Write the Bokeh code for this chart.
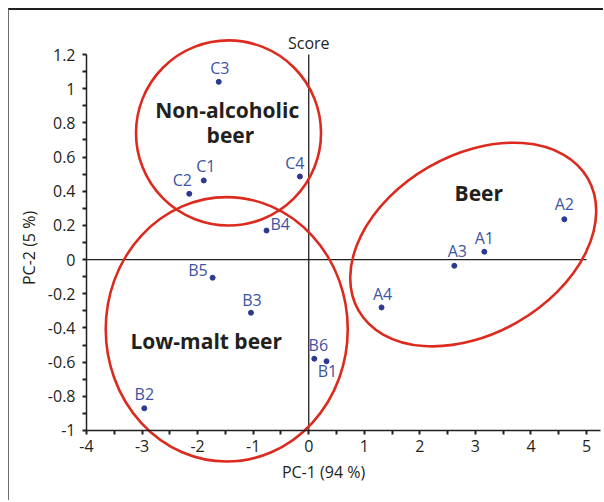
import math
from bokeh.plotting import figure
from bokeh.models import ColumnDataSource, FixedTicker, NumeralTickFormatter, Range1d
from bokeh.core.properties import value
from bokeh.embed import file_html
from bokeh.resources import INLINE

# ---------------- data ----------------
sample_names = ["A1", "A2", "A3", "A4", "B1", "B2", "B3", "B4", "B5", "B6", "C1", "C2", "C3", "C4"]
pc1 = [3.16, 4.60, 2.62, 1.31, 0.32, -2.96, -1.04, -0.76, -1.73, 0.10, -1.89, -2.15, -1.62, -0.16]
pc2 = [0.046, 0.236, -0.036, -0.28, -0.595, -0.87, -0.311, 0.17, -0.106, -0.58, 0.463, 0.385, 1.04, 0.486]

x_ticks = [-4, -3, -2, -1, 0, 1, 2, 3, 4, 5]
x_minor = [-3.5, -2.5, -1.5, -0.5, 0.5, 1.5, 2.5, 3.5, 4.5]
y_ticks = [-1, -0.8, -0.6, -0.4, -0.2, 0, 0.2, 0.4, 0.6, 0.8, 1, 1.2]
y_minor = [-0.9, -0.7, -0.5, -0.3, -0.1, 0.1, 0.3, 0.5, 0.7, 0.9, 1.1]

x_title = "PC-1 (94 %)"
y_title = "PC-2 (5 %)"
chart_title = "Score"

# group ellipses (data units)
group_cx = [2.96, -1.476, -1.444]
group_cy = [0.088, -0.408, 0.741]
group_w = [4.763, 4.356, 3.33]
group_h = [1.046, 1.547, 1.083]
group_angle_deg = [30, 0, 0]

# group labels
group_text = ["Beer", "Low-malt beer", "Non-alcoholic", "beer"]
group_tx = [3.06, -1.845, -1.467, -1.41]
group_ty = [0.335, -0.527, 0.823, 0.677]

# axis-title anchor positions (data units)
x_title_pos = (0.266, -1.2926)
y_title_pos = (-5.04, 0.068)

# ---------------- label placement (styling, pixels) ----------------
BASE_FIX = -8  # svg baseline correction
lab_dx = {"A1": 0, "A2": 0, "A3": 3, "A4": 1, "B1": 1, "B2": 0, "B3": 1, "B4": 4,
          "B5": -5, "B6": 4, "C1": 2, "C2": -7, "C3": 1, "C4": -5}
lab_dy = {"A1": -6, "A2": -7, "A3": -7, "A4": -5, "B1": 18, "B2": -6, "B3": -5, "B4": 1,
          "B5": 0, "B6": -6, "C1": -6, "C2": -6, "C3": -6, "C4": -6}
lab_align = {"B4": "left", "B5": "right"}

src = ColumnDataSource(dict(
    x=pc1, y=pc2, name=sample_names,
    dx=[lab_dx[n] for n in sample_names],
    dy=[lab_dy[n] + BASE_FIX for n in sample_names],
    align=[lab_align.get(n, "center") for n in sample_names],
))

FONT = value("Open Sans")
DARK = "#231f20"

# frame covers the whole canvas; axes are drawn at fixed data locations
p = figure(width=595, height=492,
           x_range=Range1d(-5.386, 5.323), y_range=Range1d(-1.4214, 1.4575),
           output_backend="svg", toolbar_location=None,
           min_border_left=0, min_border_right=0, min_border_top=0, min_border_bottom=0)
p.styles = {"border-top": "2px solid #231f20", "border-left": "1px solid #6d6e71",
            "margin-left": "8px", "margin-top": "8px"}
p.outline_line_color = None
p.xgrid.visible = False
p.ygrid.visible = False
p.background_fill_color = "white"
p.border_fill_color = "white"

xa = p.xaxis[0]
ya = p.yaxis[0]
for ax in (xa, ya):
    ax.axis_line_color = DARK
    ax.axis_line_width = 1.5
    ax.major_tick_line_color = DARK
    ax.major_tick_line_width = 2
    ax.minor_tick_line_color = DARK
    ax.minor_tick_line_width = 2
    ax.major_tick_in = 0
    ax.major_tick_out = 4
    ax.minor_tick_in = 0
    ax.minor_tick_out = 4
    ax.major_label_text_font = "Open Sans"
    ax.major_label_text_font_size = "16px"
    ax.major_label_text_color = DARK
    ax.formatter = NumeralTickFormatter(format="0.[0]")

xa.ticker = FixedTicker(ticks=x_ticks, minor_ticks=x_minor)
ya.ticker = FixedTicker(ticks=y_ticks, minor_ticks=y_minor)
xa.fixed_location = y_ticks[0]
ya.fixed_location = x_ticks[0]
xa.bounds = (x_ticks[0], 5.25)
ya.bounds = (y_ticks[0], y_ticks[-1])
xa.major_label_standoff = 6
ya.major_label_standoff = 7

# zero lines
p.segment(x0=[x_ticks[0]], y0=[0], x1=[x_ticks[-1]], y1=[0], line_color=DARK, line_width=1.3)
p.segment(x0=[0], y0=[y_ticks[0]], x1=[0], y1=[y_ticks[-1]], line_color=DARK, line_width=1.3)

# ellipses
p.ellipse(x=group_cx, y=group_cy, width=group_w, height=group_h,
          angle=[math.radians(a) for a in group_angle_deg],
          fill_color=None, line_color="#dc2a1e", line_width=2.6)

# points and labels
p.scatter("x", "y", source=src, size=5, color="#2b3990")
p.text("x", "y", text="name", source=src, x_offset="dx", y_offset="dy",
       text_align="align", text_baseline="alphabetic",
       text_font=FONT, text_font_size="16px", text_color="#4053a3")

# group labels
p.text(x=group_tx, y=group_ty, text=group_text, text_align="center", text_baseline="alphabetic",
       y_offset=-9, text_font=FONT, text_font_size="21px", text_font_style="bold", text_color=DARK)

# title "Score"
p.text(x=[0], y=[y_ticks[-1]], text=[chart_title], text_align="center", text_baseline="alphabetic",
       y_offset=-12, text_font=FONT, text_font_size="16px", text_color=DARK)

# axis titles
p.text(x=[x_title_pos[0]], y=[x_title_pos[1]], text=[x_title], text_align="center",
       text_baseline="alphabetic", y_offset=BASE_FIX,
       text_font=FONT, text_font_size="16px", text_color=DARK)
p.text(x=[y_title_pos[0]], y=[y_title_pos[1]], text=[y_title], text_align="center",
       text_baseline="middle", angle=math.pi / 2,
       text_font=FONT, text_font_size="16px", text_color=DARK)

open("out.html", "w").write(file_html(p, INLINE))
